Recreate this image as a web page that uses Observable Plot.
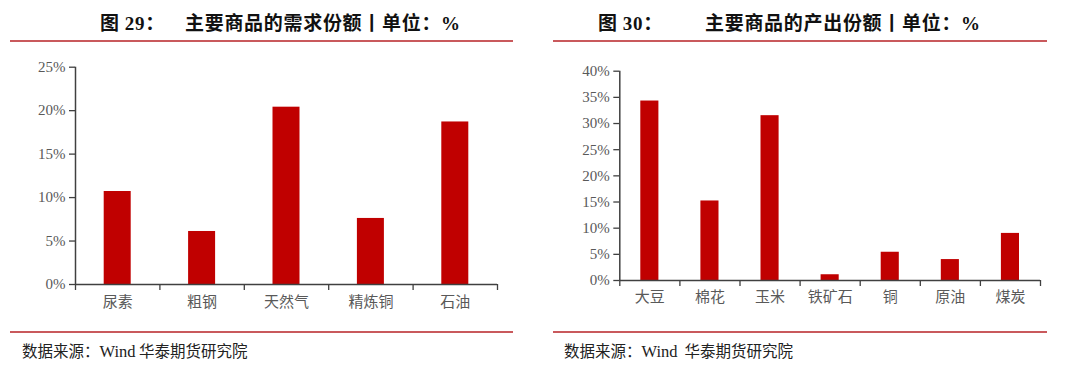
<!DOCTYPE html>
<html>
<head>
<meta charset="utf-8">
<script src="https://cdn.jsdelivr.net/npm/d3@7"></script>
<script src="https://cdn.jsdelivr.net/npm/@observablehq/plot@0.6"></script>
<style>
  html, body { margin: 0; padding: 0; background: #fff; }
  #page { position: relative; width: 1080px; height: 369px; overflow: hidden; background: #fff; }
  .title { position: absolute; top: 10px; font-family: "Noto Sans CJK SC", sans-serif; font-weight: bold; font-size: 19px; color: #111; line-height: 24px; white-space: nowrap; letter-spacing: 0.7px; }
  .title .num { font-family: "Liberation Serif", serif; font-weight: bold; font-size: 19px; }
  .rule { position: absolute; height: 2px; background: #c9595c; }
  .foot { position: absolute; top: 339px; font-family: "Noto Sans CJK SC", sans-serif; font-size: 15.5px; color: #222; line-height: 22px; white-space: nowrap; }
  .foot .en { font-family: "Liberation Serif", serif; font-size: 16.5px; }
  .chart { position: absolute; top: 45px; }
  .chart svg { background: transparent !important; }
</style>
</head>
<body>
<div id="page">
  <div class="title" style="left:100px">图 <span class="num">29</span>：</div>
  <div class="title" style="left:185px">主要商品的需求份额丨单位：<span class="num">%</span></div>
  <div class="rule" style="left:10px; width:503px; top:40px"></div>
  <div class="rule" style="left:10px; width:503px; top:331px"></div>
  <div class="foot" style="left:22px">数据来源：<span class="en">Wind</span> 华泰期货研究院</div>
  <div id="left" class="chart" style="left:0px"></div>

  <div class="title" style="left:598px">图 <span class="num">30</span>：</div>
  <div class="title" style="left:705px">主要商品的产出份额丨单位：<span class="num">%</span></div>
  <div class="rule" style="left:553px; width:494px; top:40px"></div>
  <div class="rule" style="left:553px; width:494px; top:331px"></div>
  <div class="foot" style="left:564px">数据来源：<span class="en">Wind</span>&nbsp; 华泰期货研究院</div>
  <div id="right" class="chart" style="left:540px"></div>
</div>
<script>
const demandCats = ["尿素", "粗钢", "天然气", "精炼铜", "石油"];
const demandVals = [10.7, 6.1, 20.4, 7.6, 18.7];
const demandTicks = [0, 5, 10, 15, 20, 25];

const supplyCats = ["大豆", "棉花", "玉米", "铁矿石", "铜", "原油", "煤炭"];
const supplyVals = [34.3, 15.2, 31.5, 1.1, 5.4, 4.0, 9.0];
const supplyTicks = [0, 5, 10, 15, 20, 25, 30, 35, 40];

function makeChart(cats, vals, ticks, o) {
  const data = cats.map((c, i) => ({c, i, v: vals[i]}));
  const axisColor = "#404040";
  return Plot.plot({
    width: 540,
    height: 280,
    marginLeft: o.ml,
    marginRight: o.mr,
    marginTop: o.mt,
    marginBottom: o.mb,
    style: {background: "transparent", overflow: "visible"},
    x: {type: "linear", domain: [0, cats.length], axis: null, label: null},
    y: {domain: [0, ticks[ticks.length - 1]], axis: null, label: null},
    marks: [
      Plot.rectY(data, {x1: "i", x2: d => d.i + 1, y: "v", fill: "#c00000", insetLeft: o.inset, insetRight: o.inset}),
      Plot.axisY({ticks: ticks, label: null, tickFormat: d => d + "%", tickSize: 6, tickPadding: o.yPad, stroke: axisColor, strokeWidth: 1.3,
        fill: "#595959", fontSize: 15, fontFamily: "Liberation Serif, serif"}),
      Plot.axisX({ticks: d3.range(cats.length + 1), label: null, tickFormat: () => "", tickSize: 6, stroke: axisColor, strokeWidth: 1.3}),
      Plot.axisX({ticks: d3.range(cats.length).map(i => i + 0.5), label: null, tickFormat: t => cats[Math.floor(t)], tickSize: 0,
        tickPadding: o.xPad, fill: "#595959", fontSize: 15, fontFamily: "Noto Sans CJK SC, sans-serif"}),
      Plot.ruleY([0], {stroke: axisColor, strokeWidth: 1.5}),
      Plot.ruleX([0], {stroke: axisColor, strokeWidth: 1.5})
    ]
  });
}

document.getElementById("left").append(makeChart(demandCats, demandVals, demandTicks,
  {ml: 75, mr: 43, mt: 21.7, mb: 41, inset: 28.7, yPad: 4, xPad: 12}));
document.getElementById("right").append(makeChart(supplyCats, supplyVals, supplyTicks,
  {ml: 79.3, mr: 40, mt: 25.7, mb: 45, inset: 21, yPad: 4, xPad: 11}));
</script>
</body>
</html>
